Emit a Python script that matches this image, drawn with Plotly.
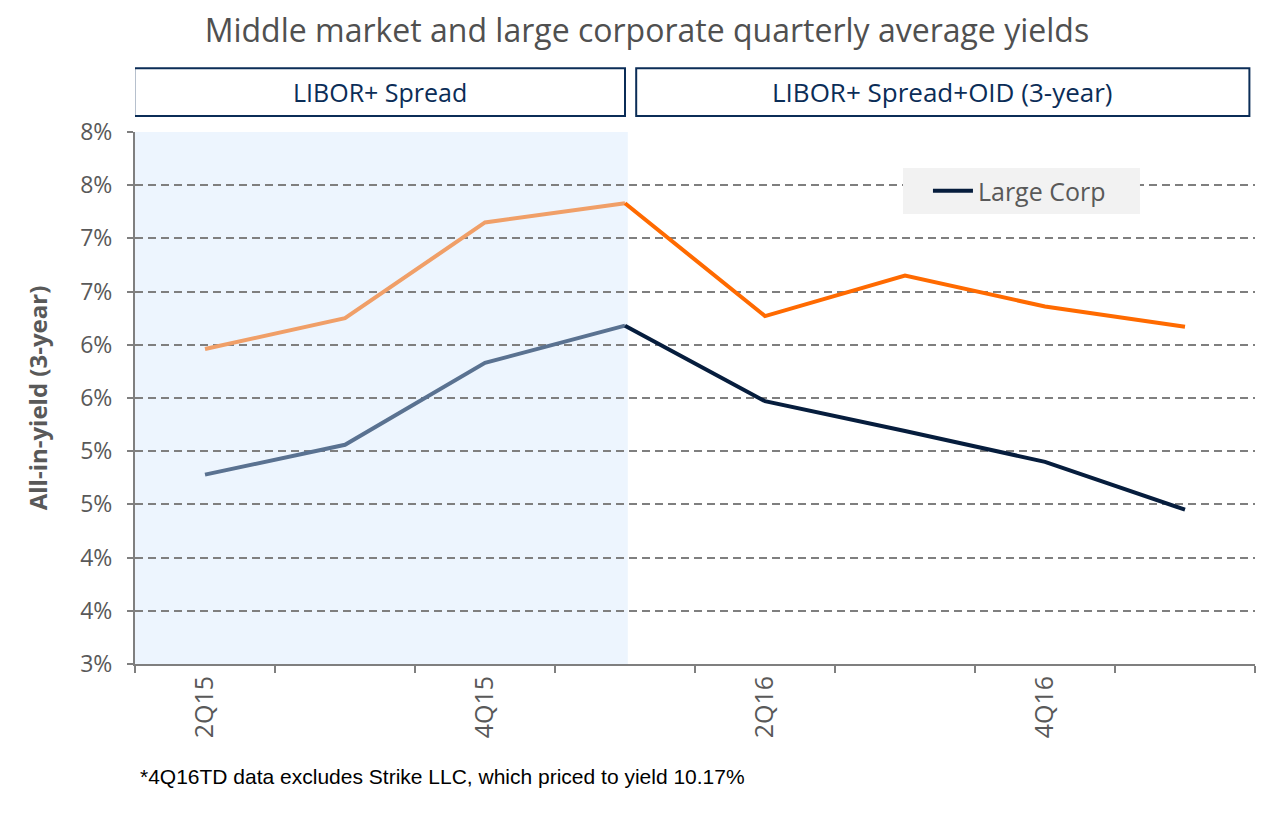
import plotly.graph_objects as go

# ---- data ----
quarters = ["2Q15", "3Q15", "4Q15", "1Q16", "2Q16", "3Q16", "4Q16", "1Q17"]
middle_market = [5.96, 6.25, 7.15, 7.33, 6.27, 6.65, 6.36, 6.17]
large_corp = [4.78, 5.06, 5.83, 6.18, 5.47, 5.19, 4.90, 4.45]
split_index = 3  # last quarter of the "LIBOR+ Spread" regime
y_tick_values = [3.0, 3.5, 4.0, 4.5, 5.0, 5.5, 6.0, 6.5, 7.0, 7.5, 8.0]
y_tick_labels = ["3%", "4%", "4%", "5%", "5%", "6%", "6%", "7%", "7%", "8%", "8%"]
x_label_quarters = ["2Q15", "4Q15", "2Q16", "4Q16"]
header_left = "LIBOR+ Spread"
header_right = "LIBOR+ Spread+OID (3-year)"
title_text = "Middle market and large corporate quarterly average yields"
y_title = "All-in-yield (3-year)"
footnote = "*4Q16TD data excludes Strike LLC, which priced to yield 10.17%"

# ---- styles ----
MM_LIGHT = "#F09F68"
MM_DARK = "#FF6A00"
LC_LIGHT = "#5A7291"
LC_DARK = "#061D3D"
NAVY = "#0B2D57"
GRAY_TXT = "#595959"
AXIS_GRAY = "#7F7F7F"
SHADE = "#EDF5FE"

W, H = 1274, 815  # page body has an 8px margin

xs = list(range(len(quarters)))
x_tickvals = [quarters.index(q) for q in x_label_quarters]
boundaries = [i - 0.5 for i in range(len(quarters) + 1)]

fig = go.Figure()

# shaded area for first regime
fig.add_shape(type="rect", xref="x", yref="paper",
              x0=-0.5, x1=split_index + 0.02, y0=0, y1=1,
              fillcolor=SHADE, line_width=0, layer="below")

def seg(vals, a, b):
    return xs[a:b + 1], vals[a:b + 1]

x1, y1 = seg(middle_market, 0, split_index)
fig.add_trace(go.Scatter(x=x1, y=y1, mode="lines", line=dict(color=MM_LIGHT, width=4),
                         name="Middle Market", showlegend=False))
x2, y2 = seg(middle_market, split_index, len(quarters) - 1)
fig.add_trace(go.Scatter(x=x2, y=y2, mode="lines", line=dict(color=MM_DARK, width=4),
                         name="Middle Market", showlegend=False))
x3, y3 = seg(large_corp, 0, split_index)
fig.add_trace(go.Scatter(x=x3, y=y3, mode="lines", line=dict(color=LC_LIGHT, width=4),
                         name="Large Corp", showlegend=False))
x4, y4 = seg(large_corp, split_index, len(quarters) - 1)
fig.add_trace(go.Scatter(x=x4, y=y4, mode="lines", line=dict(color=LC_DARK, width=4),
                         name="Large Corp", showlegend=True))

# header boxes
fig.add_shape(type="rect", xref="x", yref="paper", x0=-0.505, x1=3.0, y0=1.030, y1=1.120,
              line=dict(color=NAVY, width=2), fillcolor="white")
fig.add_shape(type="rect", xref="x", yref="paper", x0=3.08, x1=7.46, y0=1.030, y1=1.120,
              line=dict(color=NAVY, width=2), fillcolor="white")
fig.add_annotation(x=(-0.505 + 3.0) / 2, y=1.075, xref="x", yref="paper", text=header_left,
                   showarrow=False, font=dict(family="Open Sans", size=25, color=NAVY),
                   xanchor="center", yanchor="middle")
fig.add_annotation(x=(3.08 + 7.46) / 2, y=1.075, xref="x", yref="paper", text=header_right,
                   showarrow=False, font=dict(family="Open Sans", size=26, color=NAVY),
                   xanchor="center", yanchor="middle")

# legend background box
fig.add_shape(type="rect", xref="paper", yref="paper", x0=0.6857, x1=0.8973, y0=0.8459, y1=0.9323,
              fillcolor="#F2F2F2", line_width=0, layer="above")

# title
fig.update_layout(title=dict(text=title_text, x=0.5015, xanchor="center",
                             y=1 - 23 / H, yanchor="middle",
                             font=dict(family="Open Sans", size=32, color="#505050")))

# footnote
fig.add_annotation(x=0.003, y=-0.2124, xref="paper", yref="paper", text=footnote,
                   showarrow=False, xanchor="left", yanchor="middle",
                   font=dict(family="Liberation Sans", size=21, color="#000000"))

fig.update_layout(
    width=W, height=H,
    margin=dict(l=127, r=27, t=124, b=159),
    paper_bgcolor="white", plot_bgcolor="white",
    showlegend=True,
    legend=dict(x=0.708, y=0.889, xanchor="left", yanchor="middle",
                bgcolor="rgba(0,0,0,0)", borderwidth=0,
                font=dict(family="Open Sans", size=25, color=GRAY_TXT),
                itemwidth=40, tracegroupgap=0),
    xaxis=dict(range=[-0.5, len(quarters) - 0.5], tickmode="array",
               tickvals=x_tickvals, ticktext=x_label_quarters, tickangle=-90,
               ticks="", showgrid=False, zeroline=False,
               showline=True, linecolor=AXIS_GRAY, linewidth=2,
               tickfont=dict(family="Open Sans", size=25, color=GRAY_TXT),
               minor=dict(tickmode="array", tickvals=boundaries, ticks="outside",
                          ticklen=7, tickwidth=2, tickcolor=AXIS_GRAY, showgrid=False)),
    yaxis=dict(range=[3, 8], tickmode="array", tickvals=y_tick_values, ticktext=y_tick_labels,
               ticks="outside", ticklen=6, tickwidth=1.5, tickcolor=AXIS_GRAY,
               ticklabelstandoff=10,
               showgrid=True, gridcolor="#7F7F7F", gridwidth=1.5, griddash="8px,5px",
               zeroline=False, showline=True, linecolor=AXIS_GRAY, linewidth=2,
               tickfont=dict(family="Open Sans", size=23, color=GRAY_TXT),
               title=dict(text="<b>" + y_title + "</b>", standoff=26,
                          font=dict(family="Open Sans", size=24, color=GRAY_TXT))),
)

fig.write_html("out.html")
